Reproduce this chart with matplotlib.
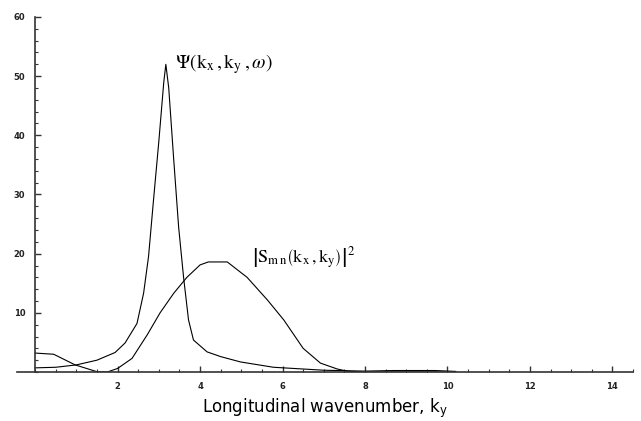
import matplotlib
matplotlib.use("Agg")
import matplotlib.pyplot as plt
from matplotlib.ticker import MultipleLocator

# Psi(kx, ky, omega) curve
psi_k = [0, 0.5, 1.0, 1.5, 1.94, 2.18, 2.47, 2.63, 2.75, 2.87, 3.0, 3.12, 3.17,
         3.24, 3.36, 3.48, 3.6, 3.72, 3.84, 4.17, 4.5, 4.98, 5.78, 7.0, 8.0,
         8.7, 9.7, 10.2]
psi_v = [0.7, 0.8, 1.2, 2.0, 3.3, 4.9, 8.2, 13.3, 19.5, 29, 39, 49, 52,
         48, 36, 24.5, 16, 8.8, 5.4, 3.4, 2.6, 1.7, 0.8, 0.3, 0.15,
         0.25, 0.25, 0.1]

# |S_mn(kx, ky)|^2 curve
s_k = [0, 0.45, 0.97, 1.5, 1.75, 2.0, 2.35, 2.72, 3.03, 3.36, 3.68, 4.0, 4.2,
       4.66, 5.14, 5.63, 6.03, 6.5, 6.92, 7.33, 7.6, 8.0, 10.2]
s_v = [3.2, 3.0, 1.2, 0.05, 0.0, 0.6, 2.3, 6.3, 10, 13.3, 16, 18.1, 18.6,
       18.6, 16, 12.2, 8.8, 4.0, 1.5, 0.5, 0.1, 0.0, 0.0]

x_major = [2, 4, 6, 8, 10, 12, 14]
y_major = [10, 20, 30, 40, 50, 60]

plt.rcParams['mathtext.fontset'] = 'stix'

fig = plt.figure(figsize=(6.41, 4.21), dpi=100)
W, H = 641, 421
left_px, right_px = 17, 633
top_px, bottom_px = 17, 372
ax = fig.add_axes([left_px / W, 1 - bottom_px / H,
                   (right_px - left_px) / W, (bottom_px - top_px) / H])

ax.plot(psi_k, psi_v, color='black', lw=0.8)
ax.plot(s_k, s_v, color='black', lw=0.8)

ax.set_xlim(-0.44, 14.5)
ax.set_ylim(0, 60)

for s in ['top', 'right']:
    ax.spines[s].set_visible(False)
ax.spines['left'].set_position(('data', 0))
ax.spines['left'].set_color('#333333')
ax.spines['bottom'].set_color('#333333')
ax.spines['left'].set_linewidth(1.2)
ax.spines['bottom'].set_linewidth(1.2)

ax.set_xticks(x_major)
ax.set_yticks(y_major)
ax.xaxis.set_minor_locator(MultipleLocator(0.5))
ax.yaxis.set_minor_locator(MultipleLocator(2))
ax.tick_params(which='major', direction='in', length=4, width=1, color='#333333',
               labelsize=6, pad=7)
ax.tick_params(which='minor', direction='in', length=2.3, width=0.8, color='#333333')
for lab in ax.get_xticklabels() + ax.get_yticklabels():
    lab.set_fontweight('bold')
    lab.set_color('#222222')

ax.set_xlabel(r'Longitudinal wavenumber, k$_\mathregular{y}$',
              family=['Liberation Sans Narrow', 'DejaVu Sans'], fontsize=12,
              labelpad=4)

ax.text(3.4, 52, r'$\Psi\left(\mathrm{k_x}\,,\mathrm{k_y}\,,\omega\right)$', fontsize=14,
        va='center', ha='left')
ax.text(5.27, 19.3, r'$\left|\mathrm{S_{m\,n}}\left(\mathrm{k_x}\,,\mathrm{k_y}\right)\right|^2$',
        fontsize=13, va='center', ha='left')

fig.savefig('out.png', dpi=100, facecolor='white')
